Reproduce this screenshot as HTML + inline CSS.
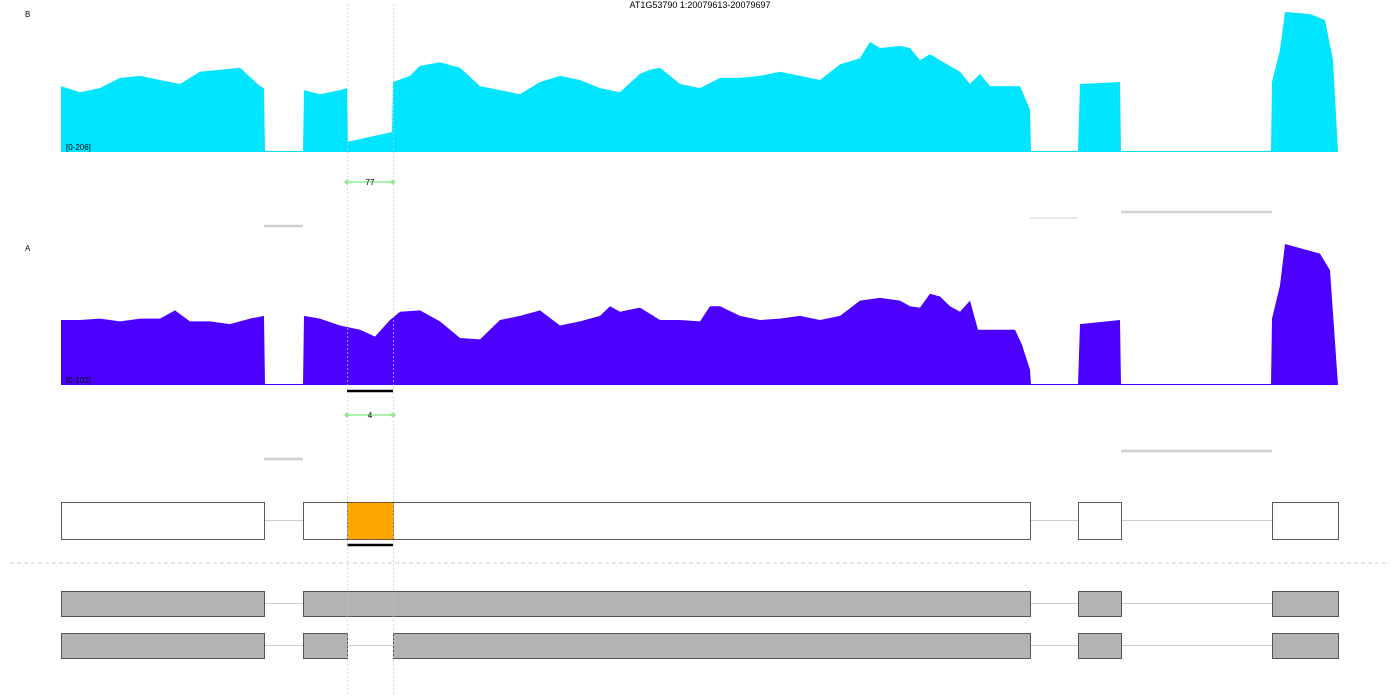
<!DOCTYPE html>
<html><head><meta charset="utf-8"><style>
html,body{margin:0;padding:0;background:#fff;width:1400px;height:700px;overflow:hidden}
svg{display:block;font-family:"Liberation Sans",sans-serif}
</style></head><body>
<svg id="chart" width="1400" height="700"></svg>
<script>
// genomic offsets (relative positions along the locus)
const posB = [0,19,39,59,79,99,119,139,159,179,199,203,204,242,243,259,279,286,287,330,331,332,349,359,379,399,419,439,459,479,499,519,539,559,579,589,599,619,639,659,679,699,719,739,759,779,799,809,819,839,849,859,869,879,899,909,919,929,959,969,970,1016,1017,1019,1059,1060,1061,1210,1211,1219,1224,1249,1264,1272,1277];
const covB = [97,88,94,109,112,106,100,118,121,124,97,94,0,0,91,85,91,94,15,29,29,103,112,127,132,124,97,91,85,103,112,106,94,88,115,121,124,100,94,109,109,112,118,112,106,129,138,162,153,156,153,135,144,135,118,100,115,97,97,62,0,0,0,100,103,0,0,0,103,150,206,203,194,135,0];
const posA = [0,19,39,59,79,99,114,129,149,169,189,203,204,242,243,259,279,299,314,329,339,359,379,399,419,439,459,479,499,519,539,549,559,579,599,619,639,649,659,679,699,719,739,759,779,799,819,839,849,859,869,879,889,899,909,917,929,954,961,969,970,1016,1017,1019,1059,1060,1061,1210,1211,1219,1224,1239,1259,1269,1277];
const covA = [47,47,48,46,48,48,54,46,46,44,48,50,0,0,50,48,43,40,35,47,53,54,46,34,33,47,50,54,43,46,50,57,53,56,47,47,46,57,57,50,47,48,50,47,50,61,63,61,57,56,66,64,57,53,61,40,40,40,29,11,0,0,0,44,47,0,0,0,48,72,102,99,95,83,0];
const exons = [[0,203],[242,969],[1017,1060],[1211,1277]];
const exonsIso2 = [[0,203],[286,331],[332,969],[1017,1060],[1211,1277]];
const altExon = [286,332];
const junctionsB = [{s:203,e:242,lvl:226,w:2.5},{s:969,e:1017,lvl:218,w:1},{s:1060,e:1211,lvl:212,w:2.5}];
const junctionsA = [{s:203,e:242,lvl:459,w:2.5},{s:1060,e:1211,lvl:451,w:2.5}];
const countB = "77", countA = "4";

const NS="http://www.w3.org/2000/svg";
const svg=document.getElementById('chart');
const x0=61,x1=1338,gLen=1277;
const xs=p=>x0+(p/gLen)*(x1-x0);
function el(t,a,parent){const e=document.createElementNS(NS,t);for(const k in a)e.setAttribute(k,a[k]);(parent||svg).appendChild(e);return e;}
function txt(s,a){const e=el('text',a);e.textContent=s;return e;}

const title=txt('AT1G53790 1:20079613-20079697',{x:700,y:8,'text-anchor':'middle','font-size':9,fill:'#000'});


function area(pos,cov,base,h,max,color,name){
  let d=`M${xs(pos[0])},${base}`;
  for(let i=0;i<pos.length;i++){d+=`L${xs(pos[i])},${base-cov[i]/max*h}`;}
  d+=`L${xs(pos[pos.length-1])},${base}Z`;
  const p=el('path',{d:d,fill:color});
  
  const l=el('line',{x1:x0,x2:x1,y1:base-0.5,y2:base-0.5,stroke:color,'stroke-width':1});
}
area(posB,covB,152,140,206,'#00e5ff','coverage-b');
area(posA,covA,385,141,102,'#4b00ff','coverage-a');
txt('B',{x:25,y:17,'font-size':8});
txt('A',{x:25,y:251,'font-size':8});
txt('[0-206]',{x:66,y:150,'font-size':8});
txt('[0-102]',{x:66,y:383,'font-size':8});

function junction(j,name){const l=el('line',{x1:xs(j.s),x2:xs(j.e),y1:j.lvl,y2:j.lvl,stroke:'#d0d0d0','stroke-width':j.w});}
junctionsB.forEach(j=>junction(j,'junction-b'));
junctionsA.forEach(j=>junction(j,'junction-a'));

function skip(y,label,name){
  const a=xs(altExon[0]),b=xs(altExon[1]);
  const g=el('g',{});
  el('line',{x1:a,x2:b,y1:y,y2:y,stroke:'#90ee90','stroke-width':1.5},g);
  [a,b].forEach(x=>el('path',{d:`M${x-3},${y}L${x},${y-3}L${x+3},${y}L${x},${y+3}Z`,fill:'#90ee90'},g));
  const t=el('text',{x:(a+b)/2,y:y+3,'text-anchor':'middle','font-size':8},g);t.textContent=label;
}
skip(182,countB,'skip-junction-b');
skip(415,countA,'skip-junction-a');

// black bars
[391,545].forEach(y=>{const l=el('line',{x1:xs(altExon[0]),x2:xs(altExon[1]),y1:y,y2:y,stroke:'#000','stroke-width':2.5});});

// gene models
function model(list,y,h,fill,name){
  const g=el('g',{});
  el('line',{x1:xs(list[0][0]),x2:xs(list[list.length-1][1]),y1:y+h/2,y2:y+h/2,stroke:'#ccc','stroke-width':1},g);
  list.forEach(e=>el('rect',{x:xs(e[0])+0.5,y:y+0.5,width:xs(e[1])-xs(e[0]),height:h,fill:fill,stroke:'#333','stroke-width':0.8},g));
}
model(exons,502,37,'#fff','event-model');
const oe=el('rect',{x:xs(altExon[0])+0.5,y:502.5,width:xs(altExon[1])-xs(altExon[0]),height:37,fill:'#ffa500',stroke:'#333','stroke-width':0.8,'stroke-dasharray':'2,1'});

const sep=el('line',{x1:10,x2:1390,y1:563,y2:563,stroke:'#ccc','stroke-dasharray':'4,3'});

model(exons,591,25,'#b3b3b3','isoform-1');
model(exonsIso2.filter((e,i)=>i!==1).concat([]).length?[[0,203],[242,286],[332,969],[1017,1060],[1211,1277]]:exonsIso2,633,25,'#b3b3b3','isoform-2');

// vertical guides
[altExon[0],altExon[1]].forEach(p=>{const l=el('line',{x1:xs(p)+0.5,x2:xs(p)+0.5,y1:4,y2:696,stroke:'#ccc','stroke-width':0.7,'stroke-dasharray':'2,2'});});
</script>
</body></html>
